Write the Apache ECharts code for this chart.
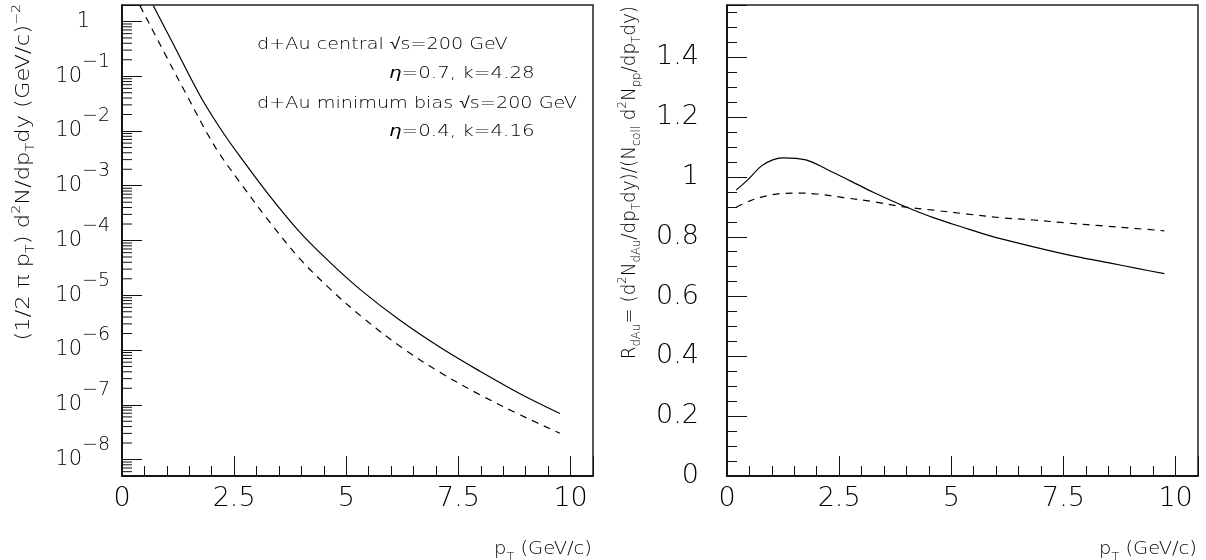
<!DOCTYPE html>
<html><head><meta charset="utf-8">
<script src="https://cdn.jsdelivr.net/npm/echarts@6/dist/echarts.min.js"></script>
<style>html,body{margin:0;padding:0;background:#fff}#c{width:1206px;height:560px}</style>
</head><body><div id="c"></div>
<script>
const FONT = '"DejaVu Sans", sans-serif';
const FW = 200;
// ---- Left panel: invariant yield (1/2 pi pT) d2N/dpTdy vs pT ----
const ptCentral = [0.699, 1.145, 1.741, 2.188, 2.634, 3.304, 3.973, 4.643, 5.313, 6.205, 7.098, 7.991, 8.884, 9.761];
const yieldCentral = [1.934, 0.3836, 0.04405, 0.01124, 3.394e-3, 6.318e-4, 1.391e-4, 3.944e-5, 1.268e-5, 3.446e-6, 1.108e-6, 4.041e-7, 1.570e-7, 6.918e-8];
const ptMinBias = [0.402, 0.922, 1.444, 1.891, 2.188, 2.634, 3.304, 3.973, 4.643, 5.313, 6.205, 7.098, 7.991, 8.884, 9.761];
const yieldMinBias = [1.934, 0.2918, 0.04498, 9.30e-3, 3.691e-3, 1.138e-3, 2.118e-4, 4.568e-5, 1.295e-5, 4.252e-6, 1.156e-6, 3.876e-7, 1.506e-7, 6.496e-8, 3.023e-8];
// ---- Right panel: R_dAu vs pT ----
const ptRCentral = [0.2, 0.44, 0.77, 1.02, 1.24, 1.76, 2.22, 2.75, 3.27, 3.94, 4.6, 5.27, 5.87, 6.54, 7.21, 7.88, 8.55, 9.14, 9.75];
const rCentral = [0.956, 0.987, 1.037, 1.057, 1.064, 1.057, 1.026, 0.987, 0.948, 0.903, 0.864, 0.831, 0.803, 0.777, 0.753, 0.731, 0.712, 0.694, 0.677];
const ptRMinBias = [0.2, 0.51, 0.89, 1.26, 1.63, 2.0, 2.6, 3.27, 3.94, 4.6, 5.35, 6.09, 6.84, 7.58, 8.33, 9.07, 9.75];
const rMinBias = [0.898, 0.920, 0.937, 0.945, 0.946, 0.943, 0.931, 0.917, 0.900, 0.889, 0.876, 0.864, 0.856, 0.846, 0.837, 0.828, 0.820];
// ---- Axis ranges / ticks ----
const xRange = [0, 10.5];
const xMajorStep = 2.5, xMinorStep = 0.5;
const logRange = [5e-9, 2];
const rRange = [0, 1.575];
const rMajorStep = 0.2, rMinorStep = 0.05;
const logMinorMultipliers = [2, 3, 4, 5, 6, 7, 8, 9];
const logDecades = [-9, -8, -7, -6, -5, -4, -3, -2, -1, 0];

const logMinorTicks = [];
logDecades.forEach(function (d) {
  logMinorMultipliers.forEach(function (k) {
    const v = k * Math.pow(10, d);
    if (v > logRange[0] * 1.0001 && v < logRange[1] * 0.9999) logMinorTicks.push([0, v]);
  });
});

const zip = (a, b) => a.map((x, i) => [x, b[i]]);
const isMult = (v, s) => Math.abs(v / s - Math.round(v / s)) < 1e-6;
const tickColor = '#111';

function xMajor(g) {
  return {
    type: 'value', gridIndex: g, min: xRange[0], max: xRange[1], interval: xMajorStep,
    axisLine: { show: true, onZero: false, lineStyle: { color: '#000', width: 1.5 } },
    axisTick: { show: true, inside: true, length: 20, lineStyle: { color: tickColor, width: 1 } },
    axisLabel: { margin: 9, fontFamily: FONT, fontWeight: FW, fontSize: 27, color: '#000',
      formatter: v => isMult(v, xMajorStep) ? String(v) : '' },
    splitLine: { show: false }
  };
}
function xMinor(g) {
  return {
    type: 'value', gridIndex: g, position: 'bottom', offset: 0, min: xRange[0], max: xRange[1], interval: xMinorStep,
    axisLine: { show: false },
    axisTick: { show: true, inside: true, length: 10, lineStyle: { color: tickColor, width: 1 } },
    axisLabel: { show: false }, splitLine: { show: false }
  };
}
const labRich = {
  e: { fontSize: 21, fontFamily: FONT, lineHeight: 48 },
  b: { fontSize: 21, fontFamily: FONT, fontWeight: FW, color: '#000', lineHeight: 16, verticalAlign: 'middle' },
  s: { fontSize: 19, fontFamily: FONT, fontWeight: FW, color: '#000', lineHeight: 16, verticalAlign: 'top' },
  t: { width: 20, lineHeight: 16, fontSize: 21 }
};
function logLabel(v) {
  const l = Math.log10(v), n = Math.round(l);
  if (Math.abs(l - n) > 1e-6) return '';
  if (n === 0) return '{e|\u200B}{b|1}{t|}';
  return '{e|\u200B}{b|10}{s|\u2212' + (-n) + '}';
}

const tRich = function (fs) {
  return {
    n: { fontSize: fs, fontFamily: FONT, fontWeight: FW, fill: '#000', lineHeight: 26 },
    i: { fontSize: fs, fontFamily: FONT, fontWeight: FW, fontStyle: 'italic', fill: '#000', lineHeight: 26 },
    sb: { fontSize: Math.round(fs * 0.62), fontFamily: FONT, fontWeight: FW, fill: '#000', lineHeight: 12, verticalAlign: 'bottom' },
    sp: { fontSize: Math.round(fs * 0.62), fontFamily: FONT, fontWeight: FW, fill: '#000', lineHeight: 12, verticalAlign: 'top' }
  };
};

function textEl(x, y, text, opts) {
  return Object.assign({
    type: 'text', x: x, y: y, silent: true, z: 10,
    style: Object.assign({ text: text, fill: '#000', fontFamily: FONT, fontWeight: FW, fontSize: 16,
      align: 'left', verticalAlign: 'middle', rich: tRich(opts && opts.fs || 16) }, opts && opts.style)
  }, opts && opts.el);
}

const lineCommon = { showSymbol: false, smooth: 0.35, clip: true };

const option = {
  animation: false,
  backgroundColor: '#fff',
  grid: [
    { left: 122, top: 5, width: 471, height: 471, show: true, borderColor: '#222', borderWidth: 1.5, backgroundColor: 'transparent' },
    { left: 727, top: 5, width: 471, height: 471, show: true, borderColor: '#222', borderWidth: 1.5, backgroundColor: 'transparent' }
  ],
  xAxis: [xMajor(0), xMinor(0), xMajor(1), xMinor(1)],
  yAxis: [
    {
      type: 'log', logBase: 10, gridIndex: 0, min: logRange[0], max: logRange[1], splitNumber: 10,
      axisLine: { show: true, onZero: false, lineStyle: { color: '#000', width: 1.5 } },
      axisTick: { show: true, inside: true, length: 20, lineStyle: { color: tickColor, width: 1 } },
      minorTick: { show: false },
      axisLabel: { margin: 12, formatter: logLabel, rich: labRich },
      splitLine: { show: false }
    },
    {
      type: 'value', gridIndex: 1, min: rRange[0], max: rRange[1], interval: rMajorStep,
      axisLine: { show: true, onZero: false, lineStyle: { color: '#000', width: 1.5 } },
      axisTick: { show: true, inside: true, length: 20, lineStyle: { color: tickColor, width: 1 } },
      axisLabel: { margin: 28, fontFamily: FONT, fontWeight: FW, fontSize: 27, color: '#000',
        formatter: v => isMult(v, rMajorStep) ? String(+v.toFixed(2)) : '' },
      splitLine: { show: false }
    },
    {
      type: 'value', gridIndex: 1, position: 'left', offset: 0, min: rRange[0], max: rRange[1], interval: rMinorStep,
      axisLine: { show: false },
      axisTick: { show: true, inside: true, length: 10, lineStyle: { color: tickColor, width: 1 } },
      axisLabel: { show: false }, splitLine: { show: false }
    }
  ],
  series: [
    Object.assign({ type: 'line', name: 'central', xAxisIndex: 0, yAxisIndex: 0, data: zip(ptCentral, yieldCentral),
      lineStyle: { color: '#000', width: 1.2 } }, lineCommon),
    Object.assign({ type: 'line', name: 'minbias', xAxisIndex: 0, yAxisIndex: 0, data: zip(ptMinBias, yieldMinBias),
      lineStyle: { color: '#000', width: 1.2, type: [7, 6] } }, lineCommon),
    { type: 'custom', name: 'logMinorTicks', xAxisIndex: 0, yAxisIndex: 0, data: logMinorTicks, silent: true, z: 5,
      renderItem: function (params, api) {
        const p = api.coord([api.value(0), api.value(1)]);
        return { type: 'line', shape: { x1: p[0], y1: p[1], x2: p[0] + 10, y2: p[1] },
          style: { stroke: tickColor, lineWidth: 1 } };
      } },
    Object.assign({ type: 'line', name: 'R central', xAxisIndex: 2, yAxisIndex: 1, data: zip(ptRCentral, rCentral),
      lineStyle: { color: '#000', width: 1.2 } }, lineCommon),
    Object.assign({ type: 'line', name: 'R minbias', xAxisIndex: 2, yAxisIndex: 1, data: zip(ptRMinBias, rMinBias),
      lineStyle: { color: '#000', width: 1.2, type: [7, 6] } }, lineCommon)
  ],
  graphic: [
    // annotations
    textEl(257, 45, 'd+Au central \u221As=200 GeV', { fs: 16, el: { scaleX: 1.2 } }),
    textEl(389, 74, '{i|\u03B7}{n|=0.7, k=4.28}', { fs: 16, el: { scaleX: 1.24 } }),
    textEl(257, 104, 'd+Au minimum bias \u221As=200 GeV', { fs: 16, el: { scaleX: 1.2 } }),
    textEl(389, 132, '{i|\u03B7}{n|=0.4, k=4.16}', { fs: 16, el: { scaleX: 1.24 } }),
    // x titles
    textEl(592, 550, '{n|p}{sb|T}{n| (GeV/c)}', { fs: 17, el: { scaleX: 1.15 }, style: { align: 'right' } }),
    textEl(1197, 550, '{n|p}{sb|T}{n| (GeV/c)}', { fs: 17, el: { scaleX: 1.15 }, style: { align: 'right' } }),
    // y titles
    textEl(24, 4, '{n|(1/2 \u03C0 p}{sb|T}{n|) d}{sp|2}{n|N/dp}{sb|T}{n|dy (GeV/c)}{sp|\u22122}',
      { fs: 19, el: { rotation: Math.PI / 2, scaleX: 1.19 }, style: { align: 'right' } }),
    textEl(630, 6, '{n|R}{sb|dAu}{n|= (d}{sp|2}{n|N}{sb|dAu}{n|/dp}{sb|T}{n|dy)/(N}{sb|coll}{n| d}{sp|2}{n|N}{sb|pp}{n|/dp}{sb|T}{n|dy)}',
      { fs: 19, el: { rotation: Math.PI / 2, scaleX: 0.97 }, style: { align: 'right' } })
  ]
};
const chart = echarts.init(document.getElementById('c'), null, { renderer: 'canvas' });
chart.setOption(option);
</script></body></html>
